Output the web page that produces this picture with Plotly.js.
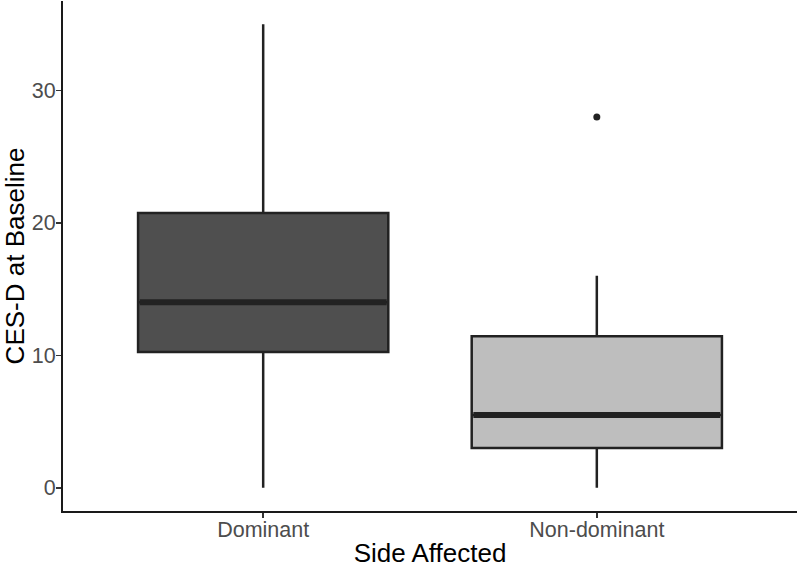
<!DOCTYPE html>
<html>
<head>
<meta charset="utf-8">
<script src="https://cdn.plot.ly/plotly-3.0.1.min.js"></script>
<style>
  body { margin: 0; background: #fff; }
  #chart { width: 800px; height: 568px; }
</style>
</head>
<body>
<div id="chart"></div>
<script>
// box summary stats
var groups = ["Dominant", "Non-dominant"];
var groupPos = [1, 2];
var lowerWhisker = [0, 0];
var q1 = [10.25, 3];
var medians = [14, 5.5];
var q3 = [20.75, 11.45];
var upperWhisker = [35, 16];
var fills = ["#4f4f4f", "#bebebe"];

// outliers
var outlierGroup = [2];
var outlierValue = [28];

var boxWidth = 0.75;
var lineCol = "#222222";

var data = [];
groups.forEach(function (g, i) {
  data.push({
    type: "box",
    name: g,
    x: [groupPos[i]],
    q1: [q1[i]],
    median: [medians[i]],
    q3: [q3[i]],
    lowerfence: [lowerWhisker[i]],
    upperfence: [upperWhisker[i]],
    width: boxWidth,
    whiskerwidth: 0,
    fillcolor: fills[i],
    line: { color: lineCol, width: 2.5 },
    boxpoints: false,
    hoverinfo: "skip"
  });
});

// thick median bars like ggplot
groups.forEach(function (g, i) {
  data.push({
    type: "scatter",
    mode: "lines",
    x: [groupPos[i] - boxWidth / 2 + 0.005, groupPos[i] + boxWidth / 2 - 0.005],
    y: [medians[i], medians[i]],
    line: { color: lineCol, width: 6 },
    hoverinfo: "skip"
  });
});

data.push({
  type: "scatter",
  mode: "markers",
  x: outlierGroup,
  y: outlierValue,
  marker: { color: lineCol, size: 7 },
  hoverinfo: "skip"
});

var layout = {
  width: 800,
  height: 568,
  showlegend: false,
  paper_bgcolor: "#ffffff",
  plot_bgcolor: "#ffffff",
  margin: { l: 63, r: 3, t: 1, b: 57 },
  font: { family: "Liberation Sans, Arial, sans-serif" },
  xaxis: {
    range: [0.4, 2.6],
    tickvals: groupPos,
    ticktext: groups,
    showgrid: false,
    zeroline: false,
    showline: true,
    linecolor: "#1a1a1a",
    linewidth: 2,
    ticks: "outside",
    ticklen: 5,
    tickwidth: 1.5,
    tickcolor: "#333333",
    ticklabelstandoff: -7,
    tickfont: { size: 21.5, color: "#4d4d4d" },
    title: { text: "Side Affected", font: { size: 26, color: "#000000" }, standoff: 6 }
  },
  yaxis: {
    range: [-1.75, 36.75],
    tickvals: [0, 10, 20, 30],
    showgrid: false,
    zeroline: false,
    showline: true,
    linecolor: "#1a1a1a",
    linewidth: 2,
    ticks: "outside",
    ticklen: 5,
    tickwidth: 1.5,
    tickcolor: "#333333",
    ticklabelstandoff: -4,
    tickfont: { size: 21.5, color: "#4d4d4d" },
    title: { text: "CES-D at Baseline", font: { size: 26, color: "#000000" }, standoff: 8 }
  }
};

Plotly.newPlot("chart", data, layout, { displayModeBar: false, staticPlot: true });
</script>
</body>
</html>
